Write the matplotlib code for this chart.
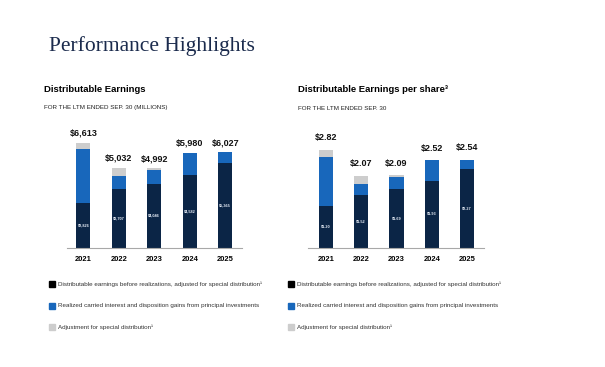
import numpy as np
import matplotlib
matplotlib.use("Agg")
import matplotlib.pyplot as plt
from matplotlib.patches import Rectangle

plt.rcParams['font.family'] = ['Liberation Sans', 'DejaVu Sans']

years = ['2021', '2022', '2023', '2024', '2025']

# Distributable earnings ($ millions)
de_base = [2826, 3707, 4046, 4582, 5365]
de_realized = [3367, 833, 828, 1398, 662]
de_adjust = [420, 492, 118, 0, 0]
de_total = ['$6,613', '$5,032', '$4,992', '$5,980', '$6,027']
de_base_lbl = ['$2,826', '$3,707', '$4,046', '$4,582', '$5,365']

# Distributable earnings per share
eps_base = [1.20, 1.52, 1.69, 1.93, 2.27]
eps_realized = [1.42, 0.33, 0.34, 0.59, 0.27]
eps_adjust = [0.20, 0.22, 0.06, 0.0, 0.0]
eps_total = ['$2.82', '$2.07', '$2.09', '$2.52', '$2.54']
eps_base_lbl = ['$1.20', '$1.52', '$1.69', '$1.93', '$2.27']

legend_labels = ['Distributable earnings before realizations, adjusted for special distribution\u00b9',
                 'Realized carried interest and disposition gains from principal investments',
                 'Adjustment for special distribution\u00b9']

c_dark = '#0b2546'
c_blue = '#1867bb'
c_gray = '#cdcdcd'
c_title = '#1b2b4d'

W, H = 605, 367
fig = plt.figure(figsize=(W / 100, H / 100), dpi=100)


def px(x, y):
    return x / W, 1 - y / H


def stacked(ax, base, real, adj, totals, base_lbls, ymax, xlim, gap):
    x = np.arange(len(years))
    base = np.array(base)
    real = np.array(real)
    adj = np.array(adj)
    ax.bar(x, base, 0.4, color=c_dark)
    ax.bar(x, real, 0.4, bottom=base, color=c_blue)
    ax.bar(x, adj, 0.4, bottom=base + real, color=c_gray)
    top = base + real + adj
    for i in range(len(x)):
        ax.annotate(totals[i], (x[i], top[i]), xytext=(0, gap), textcoords='offset points',
                    ha='center', va='bottom', fontsize=6.5, fontweight='bold', color='#111111')
        ax.text(x[i], base[i] / 2, base_lbls[i], ha='center', va='center',
                fontsize=2.8, color='#e8eef8', fontweight='bold')
    ax.set_ylim(0, ymax)
    ax.set_xlim(*xlim)
    ax.set_xticks(x)
    ax.set_xticklabels(years, fontsize=5.4, fontweight='bold')
    ax.tick_params(axis='x', length=0, pad=6)
    ax.set_yticks([])
    for s in ['top', 'left', 'right']:
        ax.spines[s].set_visible(False)
    ax.spines['bottom'].set_color('#a8a8a8')
    ax.spines['bottom'].set_linewidth(0.8)


def legend(x0, y0):
    for i, (lab, col) in enumerate(zip(legend_labels, [c_dark, c_blue, c_gray])):
        yy = y0 + i * 21.5
        fx, fy = px(x0, yy + 3)
        fig.add_artist(Rectangle((fx, fy), 6 / W, 6 / H, color='black' if i == 0 else col,
                                 transform=fig.transFigure))
        tx, ty = px(x0 + 9, yy)
        fig.text(tx, ty, lab, fontsize=4.5, color='#333333', va='center', ha='left')


# title
tx, ty = px(49, 46)
fig.text(tx, ty, 'Performance Highlights', family='Liberation Serif', fontsize=15.5,
         color=c_title, va='center', ha='left')

# left chart
tx, ty = px(44, 90)
fig.text(tx, ty, 'Distributable Earnings', fontsize=6.8, fontweight='bold', va='center')
tx, ty = px(44, 108)
fig.text(tx, ty, 'FOR THE LTM ENDED SEP. 30 (MILLIONS)', fontsize=4.5, va='center', color='#222222')
ax1 = fig.add_axes([67 / W, 1 - 248 / H, 175 / W, 118 / H])
stacked(ax1, de_base, de_realized, de_adjust, de_total, de_base_lbl, 7407, (-0.46, 4.47), 3.5)
legend(49, 284)

# right chart
tx, ty = px(298, 90)
fig.text(tx, ty, 'Distributable Earnings per share\u00b3', fontsize=6.8, fontweight='bold', va='center')
tx, ty = px(298, 108)
fig.text(tx, ty, 'FOR THE LTM ENDED SEP. 30', fontsize=4.5, va='center', color='#222222')
ax2 = fig.add_axes([308 / W, 1 - 248 / H, 176 / W, 118 / H])
stacked(ax2, eps_base, eps_realized, eps_adjust, eps_total, eps_base_lbl, 3.394, (-0.51, 4.48), 5.5)
legend(288, 284)

fig.savefig('out.png', dpi=100)
